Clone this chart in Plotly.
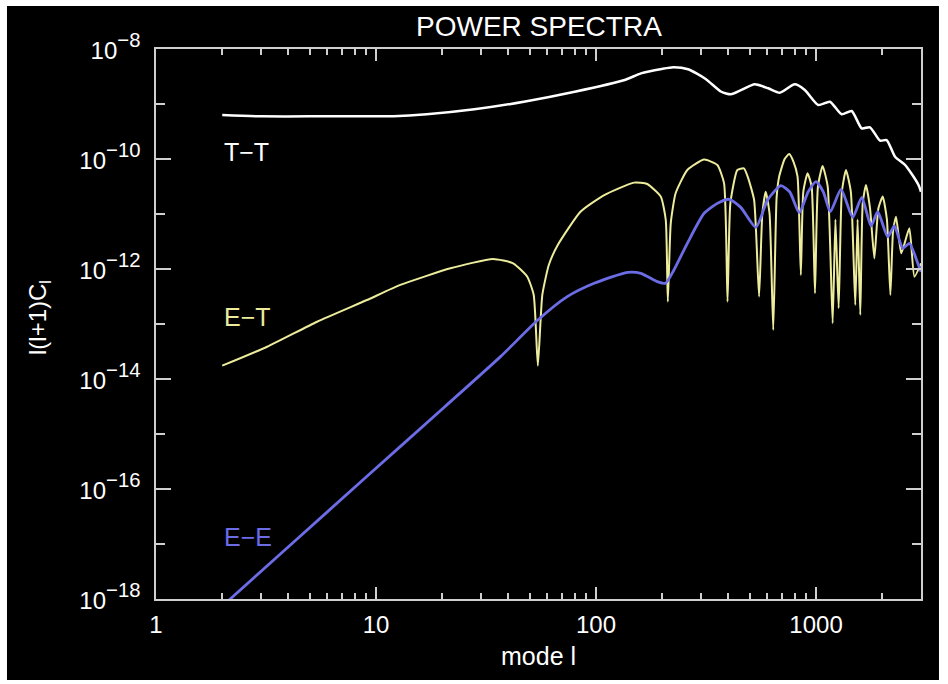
import plotly.graph_objects as go

# ---- data ----
TT_L = [2, 3, 5, 8, 12, 17, 28, 47, 80, 135, 160, 199, 225, 262, 315, 371, 410, 458,
        526, 606, 684, 800, 889, 1023, 1156, 1307, 1452, 1612, 1759, 1954, 2094, 2286,
        2540, 2723, 2922, 3000]
TT = [6.3e-10, 5.97e-10, 5.97e-10, 5.97e-10, 6.0e-10, 6.5e-10, 8.0e-10, 1.10e-9, 1.67e-9,
      2.73e-9, 3.61e-9, 4.33e-9, 4.65e-9, 4.28e-9, 2.85e-9, 1.67e-9, 1.50e-9, 1.80e-9,
      2.28e-9, 1.93e-9, 1.60e-9, 2.28e-9, 1.80e-9, 9.6e-10, 1.10e-9, 6.5e-10, 7.46e-10,
      3.61e-10, 3.77e-10, 2.15e-10, 2.21e-10, 1.10e-10, 7.78e-11, 5.33e-11, 3.37e-11,
      2.54e-11]

ET_L = [2, 3.2, 5.4, 9.1, 12.9, 21.8, 34, 42, 48.7, 52.1, 54.4, 57, 61, 67, 85, 109, 149,
        171, 197, 207.5, 212, 218.6, 230, 260, 310, 356, 382, 396, 408, 439, 470, 489, 523,
        551, 570, 591, 615, 639, 662, 680, 720, 755, 790, 824, 853, 875, 915, 955, 989,
        1020, 1071, 1130, 1190, 1225, 1267, 1310, 1368, 1440, 1508, 1545, 1589, 1630, 1687,
        1760, 1841, 1920, 2010, 2100, 2177, 2240, 2310, 2440, 2655, 2800, 3000]
ET = [1.75e-14, 3.86e-14, 1.10e-13, 2.73e-13, 5.13e-13, 1.03e-12, 1.52e-12, 1.27e-12,
      7.24e-13, 3.37e-13, 1.75e-14, 3.37e-13, 1.18e-12, 2.73e-12, 1.10e-11, 2.21e-11,
      3.72e-11, 3.51e-11, 2.07e-11, 7.78e-12, 2.55e-13, 6.78e-12, 2.38e-11, 6.31e-11,
      9.77e-11, 7.78e-11, 3.61e-11, 2.55e-13, 1.58e-11, 6.31e-11, 6.76e-11, 4.79e-11,
      1.80e-11, 3.14e-13, 1.0e-11, 2.54e-11, 1.0e-11, 7.78e-14, 2.0e-11, 4.79e-11, 1.0e-10,
      1.23e-10, 8.9e-11, 4.79e-11, 7.78e-13, 2.51e-11, 5.5e-11, 3.16e-11, 3.61e-13,
      3.16e-11, 7.46e-11, 3.16e-11, 1.03e-13, 7.94e-12, 1.93e-13, 2.51e-11, 6.31e-11,
      2.51e-11, 2.21e-13, 7.94e-12, 1.46e-13, 1.58e-11, 3.37e-11, 1.26e-11, 1.56e-12,
      1.26e-11, 2.07e-11, 7.94e-12, 3.37e-13, 5.0e-12, 8.95e-12, 1.93e-12, 5.5e-12,
      7.24e-13, 1.27e-12]

EE_L = [2, 4.07, 9.1, 20.3, 36.8, 54.4, 74, 98, 139, 160, 190, 207, 226, 260, 310, 356,
        403, 455, 533, 602, 692, 760, 839, 920, 1000, 1080, 1161, 1299, 1468, 1614, 1778,
        1907, 2117, 2270, 2478, 2657, 2900, 3000]
EE = [7.4e-19, 9.5e-18, 1.7e-16, 3.0e-15, 2.55e-14, 1.18e-13, 3.14e-13, 5.5e-13,
      8.71e-13, 8.36e-13, 5.89e-13, 5.5e-13, 9.6e-13, 2.93e-12, 1.03e-11, 1.56e-11,
      1.85e-11, 1.32e-11, 5.73e-12, 1.80e-11, 3.27e-11, 2.51e-11, 1.06e-11, 2.51e-11,
      3.87e-11, 2.51e-11, 1.10e-11, 2.81e-11, 8.71e-12, 2.01e-11, 6.05e-12, 1.10e-11,
      3.87e-12, 6.05e-12, 2.38e-12, 2.93e-12, 1.27e-12, 8.9e-13]

X_TICKS = [1, 10, 100, 1000]
X_TICK_TEXT = ["1", "10", "100", "1000"]
X_MINOR = [2, 3, 4, 5, 6, 7, 8, 9, 20, 30, 40, 50, 60, 70, 80, 90,
           200, 300, 400, 500, 600, 700, 800, 900, 2000]
Y_TICKS = [1e-18, 1e-16, 1e-14, 1e-12, 1e-10, 1e-8]
Y_EXPONENTS = ["−18", "−16", "−14", "−12", "−10", "−8"]
Y_MINOR = [1e-17, 1e-15, 1e-13, 1e-11, 1e-9]

WHITE = "#ffffff"
YELLOW = "#ecec9c"
BLUE = "#6c6ce6"
FRAME = "#cfcfcf"
FONT = "Liberation Sans, Arial, sans-serif"

# base "10" at 24px, exponent at 70% of 29px (about 20px)
y_tick_text = ["<span style='font-size:24px'>10</span><sup>%s</sup>" % e for e in Y_EXPONENTS]

fig = go.Figure()
fig.add_trace(go.Scatter(x=TT_L, y=TT, mode="lines", hoverinfo="skip",
                         line=dict(color=WHITE, width=2.5, shape="spline", smoothing=0.6)))
fig.add_trace(go.Scatter(x=ET_L, y=ET, mode="lines", hoverinfo="skip",
                         line=dict(color=YELLOW, width=2, shape="spline", smoothing=0.5)))
fig.add_trace(go.Scatter(x=EE_L, y=EE, mode="lines", hoverinfo="skip",
                         line=dict(color=BLUE, width=2.8, shape="spline", smoothing=0.6)))

axis_common = dict(
    showline=True, linecolor=FRAME, linewidth=1.5, mirror="ticks",
    ticks="inside", tickcolor=FRAME, tickwidth=1.5,
    showgrid=False, zeroline=False,
)

fig.update_xaxes(
    type="log", range=[0, 3.4771], tickmode="array",
    tickvals=X_TICKS, ticktext=X_TICK_TEXT, ticklen=12,
    tickfont=dict(family=FONT, size=24, color=WHITE),
    minor=dict(tickmode="array", tickvals=X_MINOR, ticks="inside", ticklen=6,
               tickcolor=FRAME, tickwidth=1.5, showgrid=False),
    ticklabelstandoff=3,
    **axis_common,
)
fig.update_yaxes(
    type="log", range=[-18, -8], tickmode="array",
    tickvals=Y_TICKS, ticktext=y_tick_text, ticklen=15,
    tickfont=dict(family=FONT, size=29, color=WHITE),
    minor=dict(tickmode="array", tickvals=Y_MINOR, ticks="inside", ticklen=9,
               tickcolor=FRAME, tickwidth=1.5, showgrid=False),
    ticklabelstandoff=8,
    **axis_common,
)

fig.update_layout(
    width=948, height=684,
    margin=dict(l=156, r=27, t=49, b=85),
    paper_bgcolor="#ffffff", plot_bgcolor="#000000",
    showlegend=False,
    hovermode=False,
    font=dict(family=FONT, color=WHITE),
    shapes=[dict(type="rect", xref="paper", yref="paper", layer="below",
                 x0=-0.1948, x1=1.0235, y0=-0.1473, y1=1.078,
                 fillcolor="#000000", line=dict(width=0))],
    annotations=[
        dict(text="POWER SPECTRA", xref="paper", yref="paper", x=0.5, y=1.04,
             xanchor="center", yanchor="middle", showarrow=False,
             font=dict(family=FONT, size=28, color=WHITE)),
        dict(text="mode l", xref="paper", yref="paper", x=0.5, y=-0.1036,
             xanchor="center", yanchor="middle", showarrow=False,
             font=dict(family=FONT, size=25, color=WHITE)),
        dict(text="l(l+1)C<sub>l</sub>", xref="paper", yref="paper", x=-0.1516, y=0.511,
             xanchor="center", yanchor="middle", textangle=-90, showarrow=False,
             font=dict(family=FONT, size=24, color=WHITE)),
        dict(text="T−T", x=0.301, y=-9.873, xanchor="left", yanchor="middle",
             showarrow=False, font=dict(family=FONT, size=25, color=WHITE)),
        dict(text="E−T", x=0.301, y=-12.867, xanchor="left", yanchor="middle",
             showarrow=False, font=dict(family=FONT, size=25, color=YELLOW)),
        dict(text="E−E", x=0.301, y=-16.878, xanchor="left", yanchor="middle",
             showarrow=False, font=dict(family=FONT, size=25, color=BLUE)),
    ],
)

fig.write_html(
    "out.html",
    config={"displayModeBar": False},
    post_script="document.body.style.margin='0px';document.body.style.overflow='hidden';",
)
